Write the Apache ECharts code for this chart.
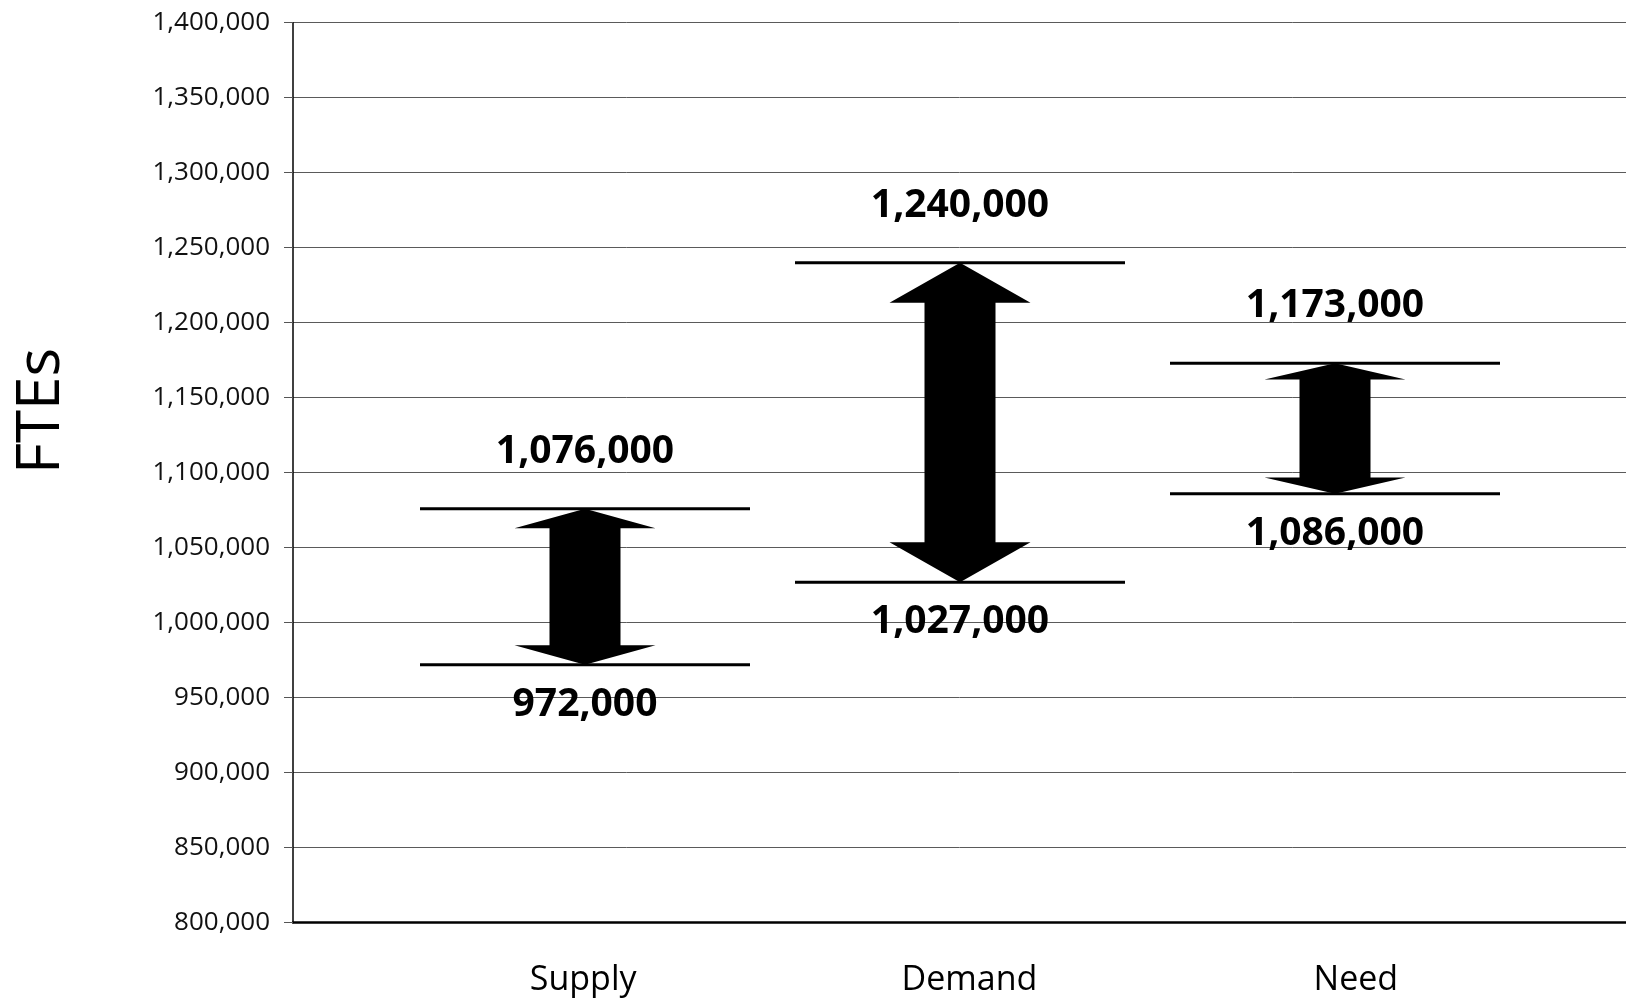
<!DOCTYPE html>
<html>
<head>
<meta charset="utf-8">
<script src="https://cdn.jsdelivr.net/npm/echarts@6/dist/echarts.min.js"></script>
<style>
  html, body { margin: 0; padding: 0; background: #fff; }
  #chart { width: 1626px; height: 1000px; }
</style>
</head>
<body>
<div id="chart"></div>
<script>
// data
var categories = ['Supply', 'Demand', 'Need'];
var highValues = [1076000, 1240000, 1173000];
var lowValues = [972000, 1027000, 1086000];
var yTicks = [800000, 850000, 900000, 950000, 1000000, 1050000, 1100000,
  1150000, 1200000, 1250000, 1300000, 1350000, 1400000];

var fmt = function (v) { return v.toLocaleString('en-US'); };

var chart = echarts.init(document.getElementById('chart'));

var rangeData = categories.map(function (c, i) {
  return [i, highValues[i], lowValues[i]];
});

var option = {
  animation: false,
  backgroundColor: '#fff',
  graphic: [{
    type: 'text',
    x: 42,
    y: 411,
    rotation: Math.PI / 2,
    style: {
      text: 'FTEs',
      font: '60px "Open Sans"',
      fill: '#000',
      align: 'center',
      verticalAlign: 'middle'
    }
  }],
  grid: [
    // main plot with axis and gridlines
    { left: 293, right: 0, top: 22.7, bottom: 77.3 },
    // arrows
    { left: 397.5, right: 103.5, top: 22.7, bottom: 77.3 },
    // category labels
    { left: 390, right: 77, top: 22.7, bottom: 77.3 }
  ],
  xAxis: [
    {
      gridIndex: 0, type: 'category', data: categories,
      axisLine: { lineStyle: { color: '#000', width: 2.5 } },
      axisTick: { show: false }, axisLabel: { show: false }
    },
    {
      gridIndex: 1, type: 'category', data: categories,
      axisLine: { show: false }, axisTick: { show: false }, axisLabel: { show: false }
    },
    {
      gridIndex: 2, type: 'category', data: categories,
      axisLine: { show: false }, axisTick: { show: false },
      axisLabel: {
        margin: 41,
        fontFamily: 'Open Sans',
        fontSize: 34,
        color: '#000'
      }
    }
  ],
  yAxis: [
    {
      gridIndex: 0, type: 'value',
      min: yTicks[0], max: yTicks[yTicks.length - 1], interval: 50000,
      axisLine: { show: true, lineStyle: { color: '#000', width: 1.5 } },
      axisTick: { show: true, length: 9, lineStyle: { color: '#555' } },
      splitLine: { lineStyle: { color: '#5a5a5a', width: 1 } },
      axisLabel: {
        margin: 23,
        fontFamily: 'Open Sans',
        fontSize: 26,
        color: '#111',
        formatter: fmt
      }
    },
    {
      gridIndex: 1, type: 'value',
      min: yTicks[0], max: yTicks[yTicks.length - 1], interval: 50000,
      show: false
    },
    {
      gridIndex: 2, type: 'value',
      min: yTicks[0], max: yTicks[yTicks.length - 1], interval: 50000,
      show: false
    }
  ],
  series: [{
    type: 'custom',
    xAxisIndex: 1,
    yAxisIndex: 1,
    data: rangeData,
    renderItem: function (params, api) {
      var pTop = api.coord([api.value(0), api.value(1)]);
      var pBot = api.coord([api.value(0), api.value(2)]);
      var cx = pTop[0], yT = pTop[1], yB = pBot[1];
      var h = (yB - yT) * 0.125;   // arrow head height
      var sw = 35.5, hw = 70.5, lw = 165;
      var labelFont = 'bold 39px "Open Sans"';
      return {
        type: 'group',
        children: [
          {
            type: 'polygon',
            shape: {
              points: [
                [cx, yT], [cx + hw, yT + h], [cx + sw, yT + h], [cx + sw, yB - h],
                [cx + hw, yB - h], [cx, yB], [cx - hw, yB - h], [cx - sw, yB - h],
                [cx - sw, yT + h], [cx - hw, yT + h]
              ]
            },
            style: { fill: '#000' }
          },
          {
            type: 'line',
            shape: { x1: cx - lw, y1: yT, x2: cx + lw, y2: yT },
            style: { stroke: '#000', lineWidth: 3 }
          },
          {
            type: 'line',
            shape: { x1: cx - lw, y1: yB, x2: cx + lw, y2: yB },
            style: { stroke: '#000', lineWidth: 3 }
          },
          {
            type: 'text',
            style: {
              text: fmt(api.value(1)), x: cx, y: yT - 57,
              font: labelFont, fill: '#000', align: 'center', verticalAlign: 'middle'
            }
          },
          {
            type: 'text',
            style: {
              text: fmt(api.value(2)), x: cx, y: yB + 40,
              font: labelFont, fill: '#000', align: 'center', verticalAlign: 'middle'
            }
          }
        ]
      };
    }
  }]
};

chart.setOption(option);
</script>
</body>
</html>
